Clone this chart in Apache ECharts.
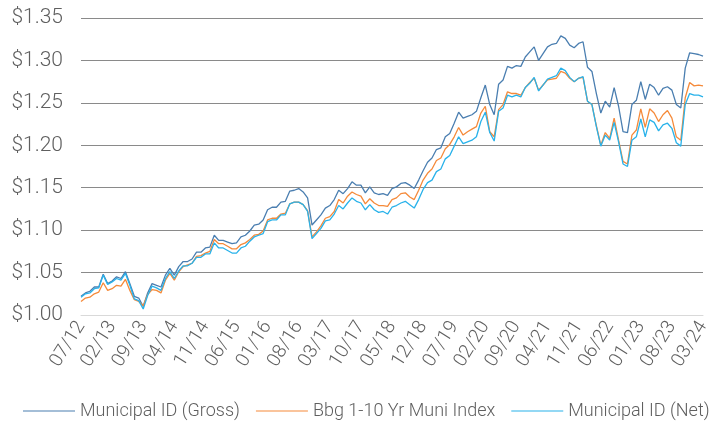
<!DOCTYPE html>
<html>
<head>
<meta charset="utf-8">
<script src="https://cdn.jsdelivr.net/npm/echarts@6/dist/echarts.min.js"></script>
<style>
  html, body { margin: 0; padding: 0; background: #fff; }
  #chart { width: 721px; height: 431px; }
</style>
</head>
<body>
<div id="chart"></div>
<script>
// month labels MM/YY, 07/12 .. 03/24
var months = []
for (var y = 2012, m = 7; y < 2024 || (y === 2024 && m <= 3); m++) {
  if (m > 12) { m = 1; y++ }
  if (y === 2024 && m > 3) break
  months.push((m < 10 ? '0' + m : '' + m) + '/' + String(y).slice(2))
}

var yTicks = [1.00, 1.05, 1.10, 1.15, 1.20, 1.25, 1.30, 1.35]

var gross = [
  1.022, 1.026, 1.028, 1.033, 1.033, 1.048, 1.037, 1.040, 1.045, 1.043,
  1.051, 1.037, 1.022, 1.020, 1.010, 1.026, 1.037, 1.035, 1.033, 1.047,
  1.055, 1.047, 1.057, 1.063, 1.063, 1.066, 1.074, 1.074, 1.079, 1.080,
  1.094, 1.088, 1.088, 1.086, 1.084, 1.085, 1.092, 1.094, 1.099, 1.106,
  1.107, 1.112, 1.124, 1.127, 1.127, 1.133, 1.134, 1.146, 1.147, 1.149,
  1.145, 1.138, 1.106, 1.112, 1.118, 1.126, 1.129, 1.136, 1.147, 1.143,
  1.149, 1.157, 1.153, 1.153, 1.144, 1.151, 1.144, 1.142, 1.143, 1.141,
  1.149, 1.151, 1.155, 1.156, 1.153, 1.149, 1.159, 1.170, 1.180, 1.185,
  1.195, 1.197, 1.210, 1.214, 1.226, 1.239, 1.232, 1.234, 1.236, 1.240,
  1.256, 1.271, 1.248, 1.236, 1.272, 1.277, 1.293, 1.291, 1.294, 1.293,
  1.304, 1.310, 1.316, 1.300, 1.308, 1.316, 1.319, 1.320, 1.329, 1.326,
  1.318, 1.315, 1.320, 1.322, 1.292, 1.287, 1.261, 1.238, 1.252, 1.245,
  1.268, 1.246, 1.216, 1.215, 1.248, 1.253, 1.275, 1.254, 1.272, 1.268,
  1.259, 1.267, 1.269, 1.265, 1.248, 1.244, 1.291, 1.309, 1.308, 1.307,
  1.305
]

var bbg = [
  1.016, 1.020, 1.021, 1.025, 1.027, 1.038, 1.029, 1.031, 1.035, 1.034,
  1.042, 1.029, 1.018, 1.016, 1.011, 1.024, 1.030, 1.029, 1.026, 1.041,
  1.049, 1.041, 1.051, 1.057, 1.059, 1.061, 1.069, 1.070, 1.073, 1.075,
  1.089, 1.084, 1.084, 1.081, 1.078, 1.078, 1.083, 1.085, 1.089, 1.094,
  1.095, 1.099, 1.112, 1.114, 1.114, 1.119, 1.120, 1.131, 1.133, 1.133,
  1.130, 1.123, 1.092, 1.098, 1.105, 1.114, 1.116, 1.122, 1.136, 1.132,
  1.140, 1.145, 1.142, 1.140, 1.131, 1.137, 1.132, 1.129, 1.129, 1.128,
  1.136, 1.138, 1.143, 1.144, 1.139, 1.136, 1.147, 1.159, 1.167, 1.172,
  1.182, 1.185, 1.196, 1.201, 1.210, 1.221, 1.212, 1.216, 1.219, 1.222,
  1.238, 1.246, 1.216, 1.210, 1.242, 1.248, 1.263, 1.261, 1.261, 1.259,
  1.268, 1.274, 1.279, 1.265, 1.271, 1.277, 1.278, 1.279, 1.287, 1.285,
  1.279, 1.275, 1.279, 1.280, 1.252, 1.248, 1.223, 1.200, 1.215, 1.208,
  1.232, 1.206, 1.181, 1.178, 1.212, 1.218, 1.243, 1.221, 1.243, 1.238,
  1.228, 1.236, 1.241, 1.232, 1.210, 1.206, 1.256, 1.274, 1.270, 1.271,
  1.270
]

var net = [
  1.021, 1.025, 1.026, 1.031, 1.032, 1.047, 1.036, 1.039, 1.043, 1.041,
  1.049, 1.035, 1.019, 1.017, 1.007, 1.023, 1.034, 1.032, 1.029, 1.043,
  1.051, 1.043, 1.052, 1.058, 1.058, 1.061, 1.068, 1.068, 1.072, 1.072,
  1.085, 1.079, 1.079, 1.076, 1.073, 1.073, 1.079, 1.081, 1.087, 1.092,
  1.094, 1.096, 1.110, 1.112, 1.112, 1.118, 1.118, 1.131, 1.133, 1.133,
  1.130, 1.122, 1.090, 1.096, 1.102, 1.111, 1.112, 1.119, 1.129, 1.125,
  1.132, 1.138, 1.134, 1.132, 1.124, 1.130, 1.124, 1.121, 1.122, 1.119,
  1.127, 1.129, 1.132, 1.134, 1.130, 1.126, 1.136, 1.148, 1.156, 1.159,
  1.169, 1.172, 1.184, 1.188, 1.199, 1.210, 1.202, 1.204, 1.206, 1.210,
  1.228, 1.239, 1.215, 1.205, 1.240, 1.244, 1.259, 1.257, 1.259, 1.257,
  1.268, 1.273, 1.280, 1.264, 1.271, 1.278, 1.280, 1.282, 1.291, 1.288,
  1.280, 1.275, 1.279, 1.281, 1.252, 1.248, 1.222, 1.199, 1.212, 1.206,
  1.227, 1.204, 1.178, 1.175, 1.206, 1.210, 1.231, 1.210, 1.230, 1.227,
  1.217, 1.224, 1.226, 1.220, 1.203, 1.199, 1.248, 1.261, 1.259, 1.259,
  1.257
]

var font = 'Roboto'
var textColor = '#5f5f5f'

var chart = echarts.init(document.getElementById('chart'))
var option = {
  animation: false,
  grid: { left: 81, right: 18, top: 18, bottom: 116 },
  legend: {
    bottom: 6,
    left: 18,
    itemGap: 16,
    itemWidth: 52,
    itemHeight: 1,
    icon: 'rect',
    textStyle: { color: textColor, fontFamily: font, fontWeight: 300, fontSize: 18 },
    data: ['Municipal ID (Gross)', 'Bbg 1-10 Yr Muni Index', 'Municipal ID (Net)']
  },
  xAxis: {
    type: 'category',
    boundaryGap: false,
    data: months,
    axisLine: { lineStyle: { color: '#d9d9d9', width: 1 } },
    axisTick: { show: false },
    axisLabel: {
      interval: 6,
      rotate: 58,
      margin: 8,
      color: textColor,
      fontFamily: font,
      fontWeight: 300,
      fontSize: 19
    }
  },
  yAxis: {
    type: 'value',
    min: yTicks[0],
    max: yTicks[yTicks.length - 1],
    interval: 0.05,
    axisLine: { show: false },
    axisTick: { show: false },
    splitLine: { lineStyle: { color: '#8a8a8a', width: 1 } },
    axisLabel: {
      margin: 18,
      color: textColor,
      fontFamily: font,
      fontWeight: 300,
      fontSize: 21,
      formatter: function (v) { return '$' + v.toFixed(2) }
    }
  },
  series: [
    {
      name: 'Municipal ID (Gross)',
      type: 'line',
      data: gross,
      symbol: 'none',
      color: '#4a7eb0',
      lineStyle: { width: 1.3 }
    },
    {
      name: 'Bbg 1-10 Yr Muni Index',
      type: 'line',
      data: bbg,
      symbol: 'none',
      color: '#f58a3a',
      lineStyle: { width: 1.3 }
    },
    {
      name: 'Municipal ID (Net)',
      type: 'line',
      data: net,
      symbol: 'none',
      color: '#29b2ea',
      lineStyle: { width: 1.3 }
    }
  ]
}
chart.setOption(option)
</script>
</body>
</html>
